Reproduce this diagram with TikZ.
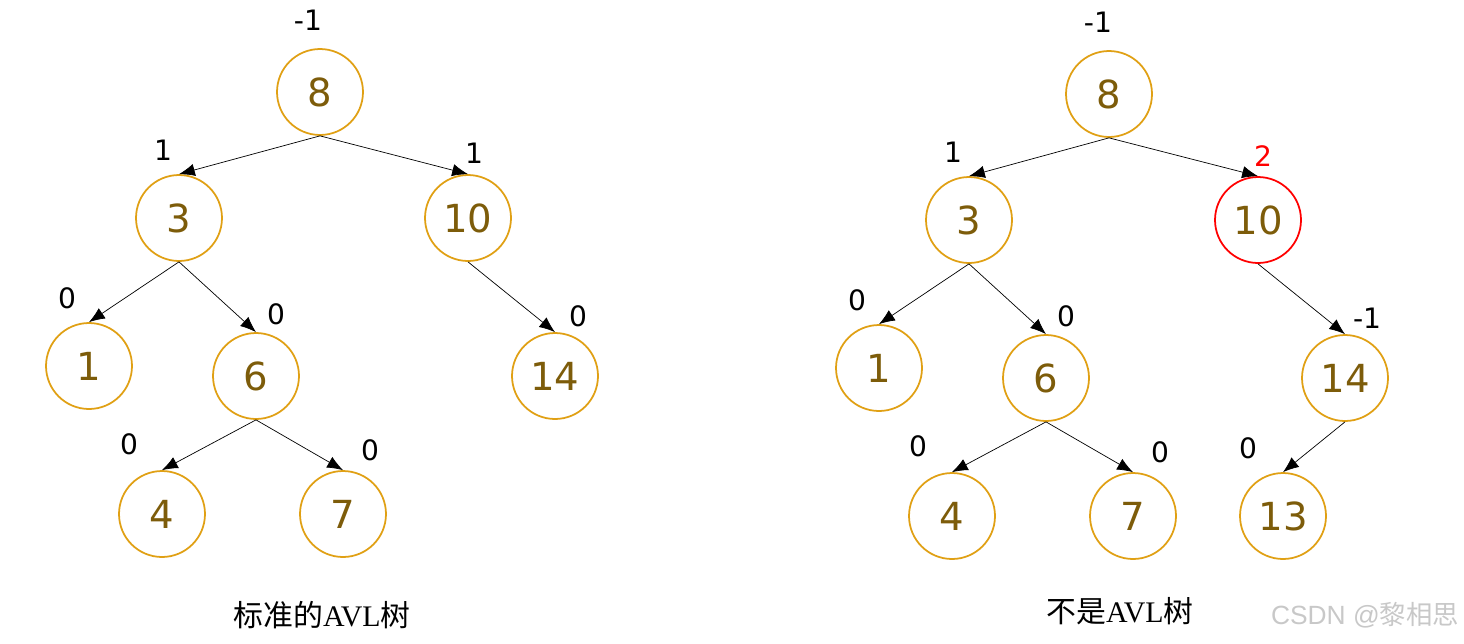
\documentclass[tikz,border=0pt]{standalone}
\usepackage{fontspec}
\setmainfont{Liberation Serif}
\newfontfamily\numfont{DejaVu Sans}
\newfontfamily\cjk{Noto Sans CJK SC}
\usetikzlibrary{arrows.meta}
\definecolor{ring}{RGB}{224,160,20}
\definecolor{digit}{RGB}{125,92,10}
\definecolor{wm}{RGB}{200,200,200}
\tikzset{
  tnode/.style={circle,draw=ring,line width=1pt,minimum size=1.72cm,inner sep=0pt,text=digit,font=\numfont\fontsize{22}{22}\selectfont},
  bad/.style={tnode,draw=red},
  bal/.style={font=\numfont\fontsize{16}{16}\selectfont,text=black},
  edge/.style={-{Latex[length=9pt,width=7pt]},line width=0.4pt,black},
  captext/.style={font=\fontsize{17}{17}\selectfont,text=black}
}
\begin{document}
\begin{tikzpicture}[x=0.02cm,y=-0.02cm]
\useasboundingbox (0,0) rectangle (1464,643);
% left tree
\node[tnode] (a8) at (320,92) {8};
\node[tnode] (a3) at (179,218) {3};
\node[tnode] (a10) at (468,218) {10};
\node[tnode] (a1) at (89,366) {1};
\node[tnode] (a6) at (256,376) {6};
\node[tnode] (a14) at (555,376) {14};
\node[tnode] (a4) at (162,514) {4};
\node[tnode] (a7) at (343,514) {7};
\draw[edge] (a8.south) -- (a3.north);
\draw[edge] (a8.south) -- (a10.north);
\draw[edge] (a3.south) -- (a1.north);
\draw[edge] (a3.south) -- (a6.north);
\draw[edge] (a10.south) -- (a14.north);
\draw[edge] (a6.south) -- (a4.north);
\draw[edge] (a6.south) -- (a7.north);
\node[bal] (la8) at (308,20) {-1};
\node[bal] (la3) at (163,150) {1};
\node[bal] (la10) at (474,153) {1};
\node[bal] (la1) at (67,298) {0};
\node[bal] (la6) at (276,314) {0};
\node[bal] (la14) at (578,316) {0};
\node[bal] (la4) at (129,444) {0};
\node[bal] (la7) at (370,450) {0};
\node[captext] (capa) at (322,615) {{\cjk 标准的}AVL{\cjk 树}};
% right tree
\node[tnode] (b8) at (1109,94) {8};
\node[tnode] (b3) at (969,220) {3};
\node[bad] (b10) at (1258,220) {10};
\node[tnode] (b1) at (879,368) {1};
\node[tnode] (b6) at (1046,378) {6};
\node[tnode] (b14) at (1345,378) {14};
\node[tnode] (b4) at (952,516) {4};
\node[tnode] (b7) at (1133,516) {7};
\node[tnode] (b13) at (1283,516) {13};
\draw[edge] (b8.south) -- (b3.north);
\draw[edge] (b8.south) -- (b10.north);
\draw[edge] (b3.south) -- (b1.north);
\draw[edge] (b3.south) -- (b6.north);
\draw[edge] (b10.south) -- (b14.north);
\draw[edge] (b6.south) -- (b4.north);
\draw[edge] (b6.south) -- (b7.north);
\draw[edge] (b14.south) -- (b13.north);
\node[bal] (lb8) at (1098,22) {-1};
\node[bal] (lb3) at (953,152) {1};
\node[bal,text=red] (lb10) at (1263,156) {2};
\node[bal] (lb1) at (857,300) {0};
\node[bal] (lb6) at (1066,316) {0};
\node[bal] (lb14) at (1367,318) {-1};
\node[bal] (lb4) at (918,446) {0};
\node[bal] (lb7) at (1160,452) {0};
\node[bal] (lb13) at (1248,448) {0};
\node[captext] (capb) at (1120,611) {{\cjk 不是}AVL{\cjk 树}};
\node[font=\fontsize{15}{15}\selectfont,text=wm] (wmk) at (1365,615) {\fontspec{Liberation Sans}CSDN @{\cjk 黎相思}};
\end{tikzpicture}
\end{document}
